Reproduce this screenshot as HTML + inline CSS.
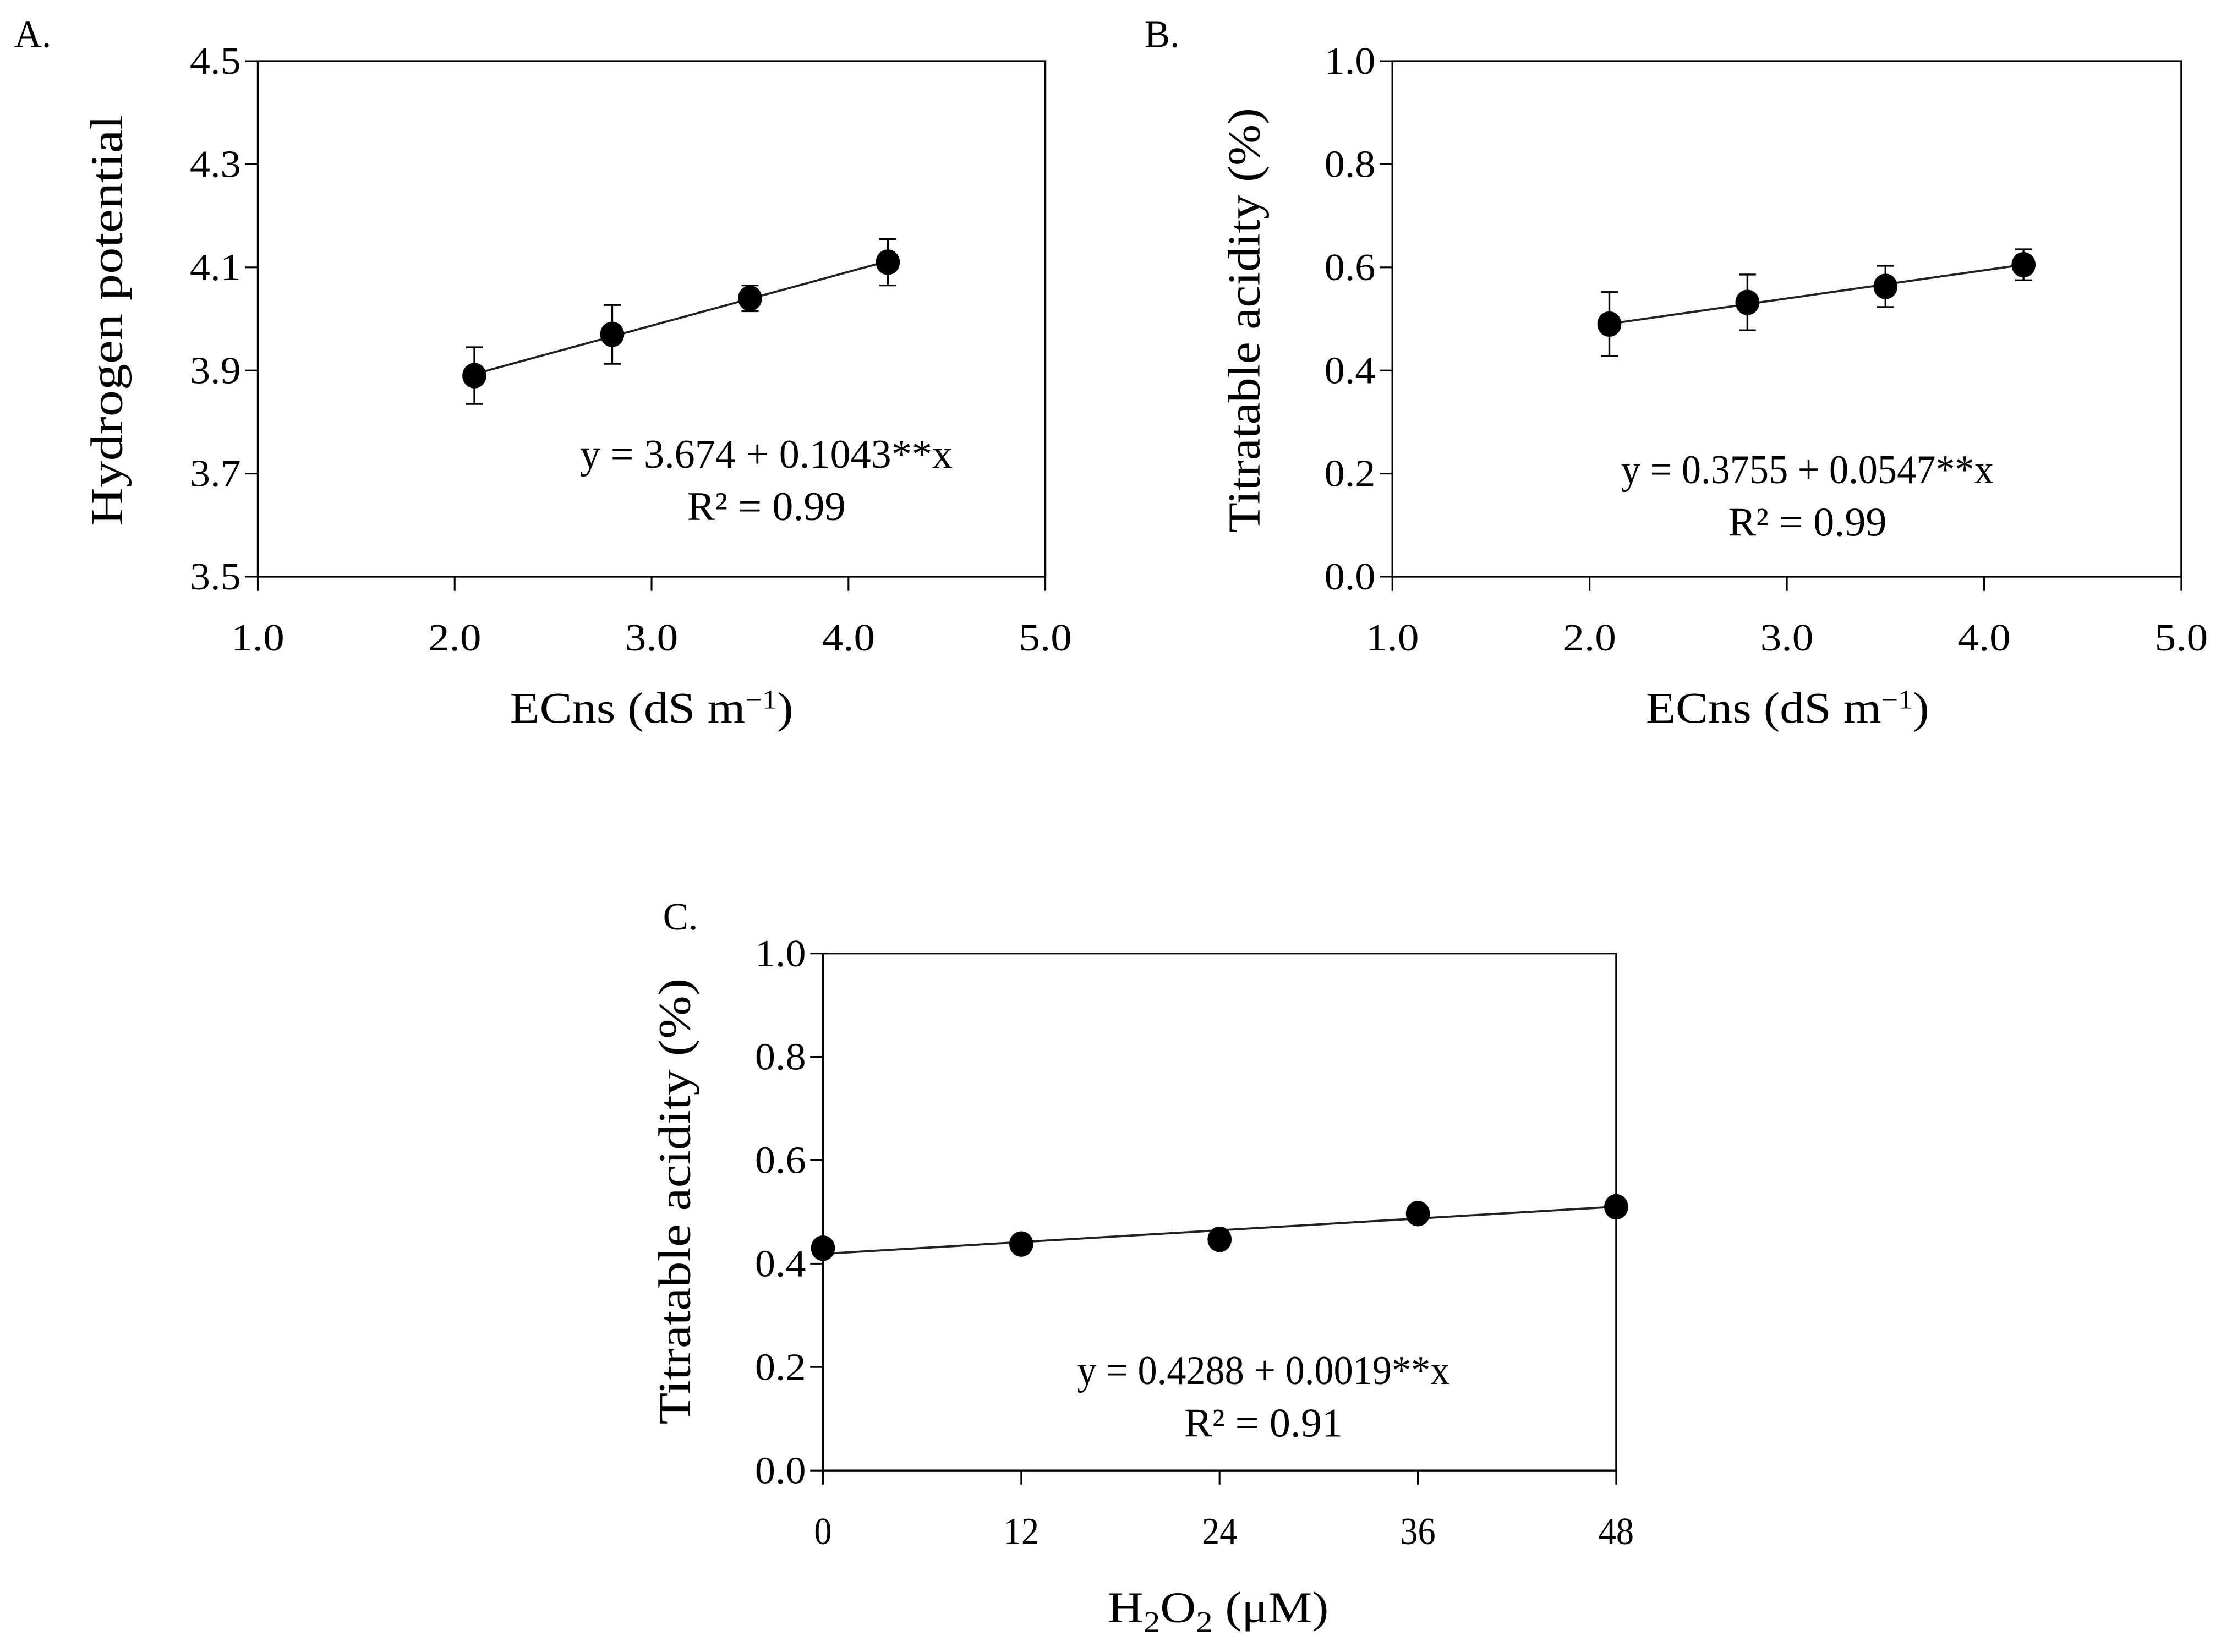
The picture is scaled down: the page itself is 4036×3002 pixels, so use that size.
<!DOCTYPE html>
<html><head><meta charset="utf-8"><style>
html,body{margin:0;padding:0;background:#fff}
svg{display:block}
text{font-family:"Liberation Serif",serif;fill:#000}
</style></head><body>
<svg id="fig" width="4036" height="3002" viewBox="0 0 1568 1166" xmlns="http://www.w3.org/2000/svg"></svg>
<script>
// Panel A data
const aX = [2.1, 2.8, 3.5, 4.2];
const aY = [3.89, 3.97, 4.04, 4.11];
const aErr = [0.055, 0.057, 0.025, 0.045];
const aFit = [3.674, 0.1043];
const aXTicks = ["1.0","2.0","3.0","4.0","5.0"];
const aYTicks = ["3.5","3.7","3.9","4.1","4.3","4.5"];
// Panel B data
const bX = [2.1, 2.8, 3.5, 4.2];
const bY = [0.49, 0.532, 0.563, 0.605];
const bErr = [0.062, 0.054, 0.04, 0.03];
const bFit = [0.3755, 0.0547];
const bXTicks = ["1.0","2.0","3.0","4.0","5.0"];
const bYTicks = ["0.0","0.2","0.4","0.6","0.8","1.0"];
// Panel C data
const cX = [0, 12, 24, 36, 48];
const cY = [0.43, 0.438, 0.447, 0.497, 0.51];
const cErr = [0, 0, 0, 0, 0];
const cFit = [0.419, 0.0019];
const cXTicks = ["0","12","24","36","48"];
const cYTicks = ["0.0","0.2","0.4","0.6","0.8","1.0"];

const NS = "http://www.w3.org/2000/svg";
const svg = document.getElementById('fig');
function mk(tag, attrs, parent){
  const e = document.createElementNS(NS, tag);
  for (const k in attrs) e.setAttribute(k, attrs[k]);
  (parent||svg).appendChild(e);
  return e;
}
function panel(o){
  const g = mk('g', {});
  
  
  const xs = v => o.L + (v - o.xmin) / (o.xmax - o.xmin) * (o.R - o.L);
  const ys = v => o.B - (v - o.ymin) / (o.ymax - o.ymin) * (o.B - o.T);
  const fr = mk('rect', {x:o.L, y:o.T, width:o.R-o.L, height:o.B-o.T, fill:'none', stroke:'#000', 'stroke-width':1.3}, g);
  
  
  o.yTicks.forEach(t => {
    const y = ys(parseFloat(t));
    mk('line', {x1:o.L-9, x2:o.L, y1:y, y2:y, stroke:'#000', 'stroke-width':1.2}, g);
    const tx = mk('text', {x:o.L-12, y:y+9, 'font-size':27, 'text-anchor':'end', textLength:36, lengthAdjust:'spacingAndGlyphs'}, g);
    tx.textContent = t;
    
    
  });
  o.xTicks.forEach(t => {
    const x = xs(parseFloat(t));
    mk('line', {x1:x, x2:x, y1:o.B, y2:o.B+10, stroke:'#000', 'stroke-width':1.2}, g);
    const tx = mk('text', {x:x, y:o.B+52, 'font-size':27, 'text-anchor':'middle', textLength:t.length*12.5, lengthAdjust:'spacingAndGlyphs'}, g);
    tx.textContent = t;
    
    
  });
  const x0 = o.xData[0], x1 = o.xData[o.xData.length-1];
  const ln = mk('line', {x1:xs(x0), y1:ys(o.fit[0]+o.fit[1]*x0), x2:xs(x1), y2:ys(o.fit[0]+o.fit[1]*x1), stroke:'#222', 'stroke-width':1.5}, g);
  
  
  o.xData.forEach((xv, i) => {
    const cx = xs(xv), cy = ys(o.yData[i]), e = o.err[i];
    if (e > 0) {
      const eb = mk('path', {d:`M${cx},${ys(o.yData[i]-e)}V${ys(o.yData[i]+e)}M${cx-6},${ys(o.yData[i]-e)}H${cx+6}M${cx-6},${ys(o.yData[i]+e)}H${cx+6}`, stroke:'#000', 'stroke-width':1.3, fill:'none'}, g);
      
      
    }
    const c = mk('ellipse', {cx:cx, cy:cy, rx:8.5, ry:9, fill:'#000'}, g);
    
    
  });
  const eq = mk('text', {x:o.eqX, y:o.eqY, 'font-size':29, 'text-anchor':'middle', textLength:263, lengthAdjust:'spacingAndGlyphs'}, g);
  eq.textContent = o.eq;
  
  
  const r2 = mk('text', {x:o.eqX, y:o.eqY+37, 'font-size':29, 'text-anchor':'middle', textLength:112, lengthAdjust:'spacingAndGlyphs'}, g);
  r2.textContent = o.r2;
  
  
  const xt = mk('text', {x:o.xtX, y:o.xtY, 'font-size':31, 'text-anchor':'middle', textLength:o.xtLen, lengthAdjust:'spacingAndGlyphs'}, g);
  xt.innerHTML = o.xTitle;
  
  
  const yt = mk('text', {x:0, y:0, 'font-size':32, 'text-anchor':'middle', textLength:o.ytLen, lengthAdjust:'spacingAndGlyphs', transform:`translate(${o.ytX},${o.ytY}) rotate(-90)`}, g);
  yt.textContent = o.yTitle;
  
  
  const pl = mk('text', {x:o.plX, y:o.plY, 'font-size':27}, g);
  pl.textContent = o.id + '.';
  
  
}
panel({id:'A', L:182, R:738, T:43, B:407, xmin:1, xmax:5, ymin:3.5, ymax:4.5,
  xData:aX, yData:aY, err:aErr, fit:aFit, xTicks:aXTicks, yTicks:aYTicks,
  eq:'y = 3.674 + 0.1043**x', r2:'R² = 0.99', eqX:541, eqY:330,
  xTitle:'ECns (dS m<tspan dy="-10" font-size="19">−1</tspan><tspan dy="10">)</tspan>', xtX:460, xtY:510, xtLen:200,
  yTitle:'Hydrogen potential', ytX:86, ytY:226, ytLen:290, plX:10, plY:33});
panel({id:'B', L:983, R:1540, T:43, B:407, xmin:1, xmax:5, ymin:0, ymax:1,
  xData:bX, yData:bY, err:bErr, fit:bFit, xTicks:bXTicks, yTicks:bYTicks,
  eq:'y = 0.3755 + 0.0547**x', r2:'R² = 0.99', eqX:1276, eqY:341,
  xTitle:'ECns (dS m<tspan dy="-10" font-size="19">−1</tspan><tspan dy="10">)</tspan>', xtX:1262, xtY:510, xtLen:200,
  yTitle:'Titratable acidity (%)', ytX:889, ytY:226, ytLen:300, plX:808, plY:33});
panel({id:'C', L:581, R:1141, T:673, B:1038, xmin:0, xmax:48, ymin:0, ymax:1,
  xData:cX, yData:cY, err:cErr, fit:cFit, xTicks:cXTicks, yTicks:cYTicks,
  eq:'y = 0.4288 + 0.0019**x', r2:'R² = 0.91', eqX:892, eqY:977,
  xTitle:'H<tspan dy="7" font-size="21">2</tspan><tspan dy="-7">O</tspan><tspan dy="7" font-size="21">2</tspan><tspan dy="-7"> (μM)</tspan>', xtX:860, xtY:1145, xtLen:156,
  yTitle:'Titratable acidity (%)', ytX:487, ytY:848, ytLen:315, plX:468, plY:656});
</script>
</body></html>
